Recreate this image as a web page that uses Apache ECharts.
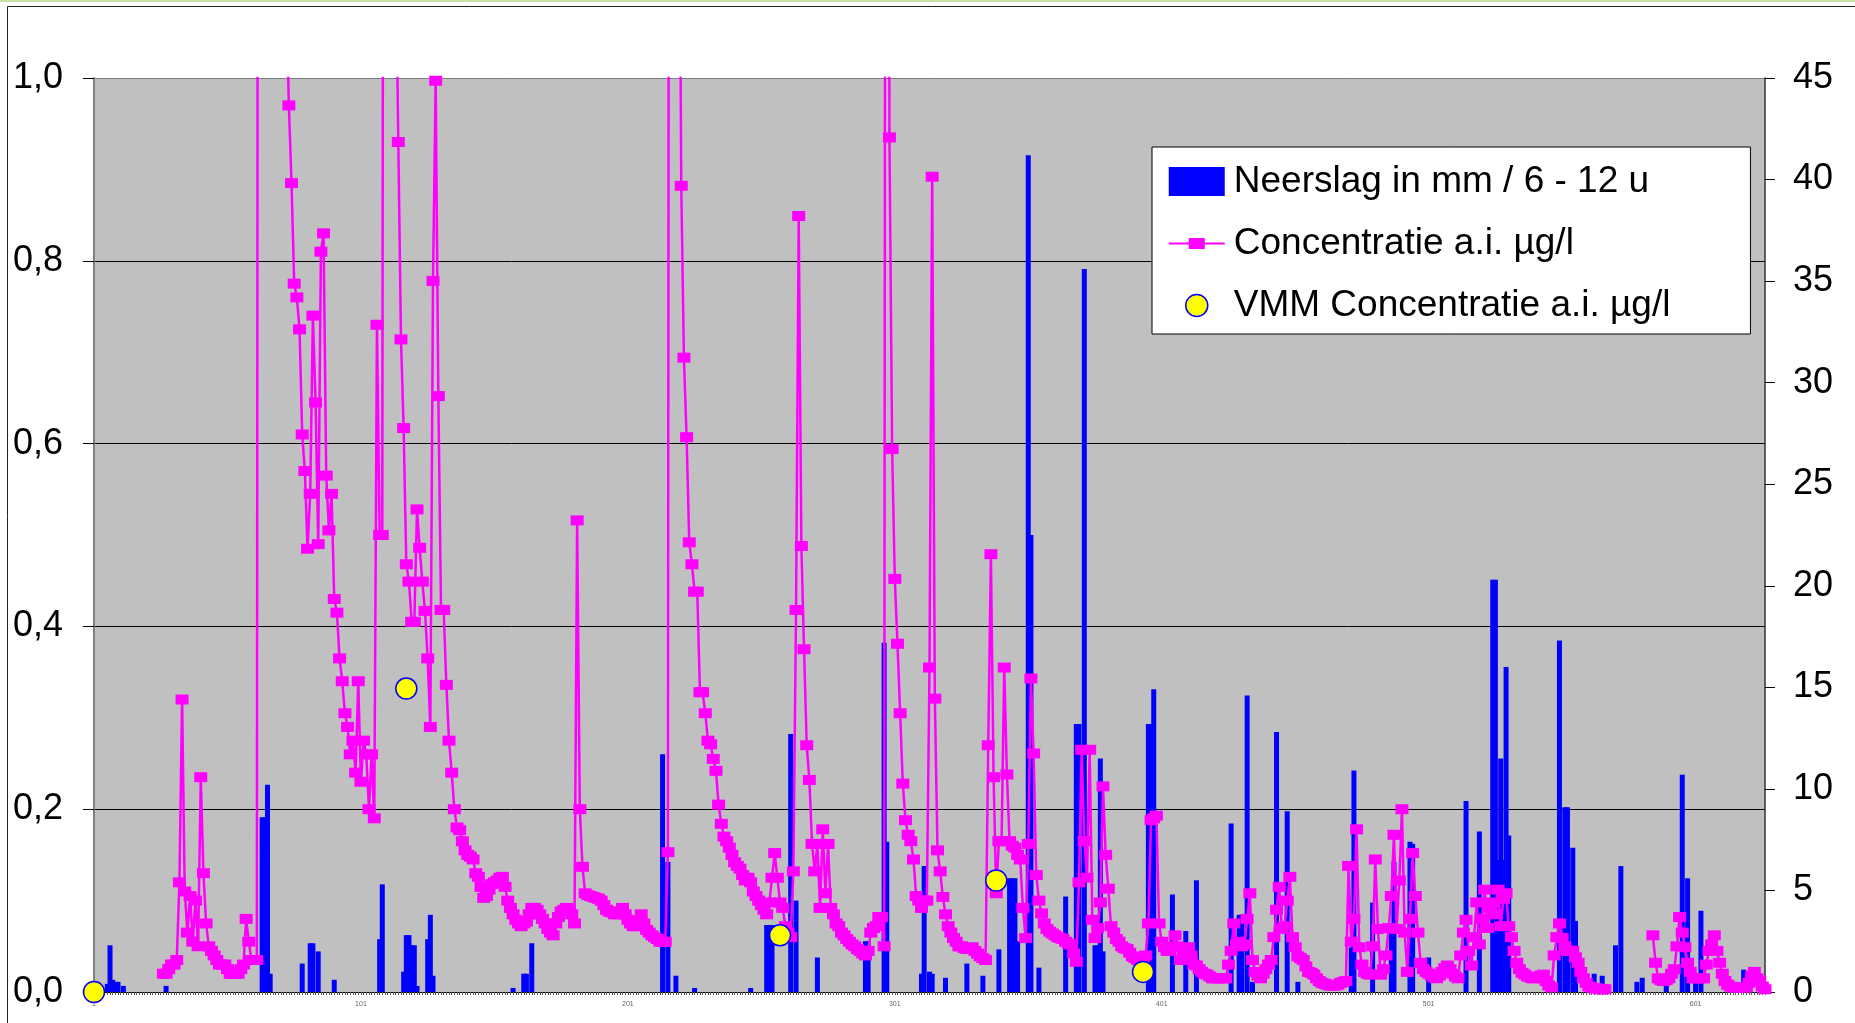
<!DOCTYPE html>
<html>
<head>
  <meta charset="utf-8" />
  <title>Neerslag en concentratie</title>
  <script src="https://cdn.jsdelivr.net/npm/echarts/dist/echarts.min.js"></script>
  <style>
    html, body { margin: 0; padding: 0; background: #fff; }
    #main { width: 1855px; height: 1023px; }
  </style>
</head>
<body>
<div id="main"></div>
<script type="text/javascript">
  // aantal tijdstappen op de x-as
  var nSteps = 627;

  // neerslag (mm), alleen de stappen met een balk: index + waarde
  var rainIdx = [6, 7, 8, 9, 10, 12, 28, 64, 65, 66, 67, 79, 82, 83, 85, 91,
    108, 109, 117, 118, 119, 120, 121, 122, 126, 127, 128, 158, 162, 163, 165,
    214, 216, 219, 226, 247, 253, 254, 255, 262, 264, 272, 290, 291, 297, 298,
    311, 312, 314, 315, 320, 328, 334, 340, 344, 345, 346, 347, 351, 352, 355,
    365, 369, 370, 372, 376, 377, 378, 379, 396, 397, 398, 405, 410, 414,
    427, 430, 431, 433, 435, 444, 448, 452, 472, 473, 480, 487, 488, 494, 495,
    501, 515, 520, 525, 526, 527, 528, 529, 530, 531, 550, 552, 553, 555, 556,
    563, 566, 571, 573, 579, 581, 590, 596, 598, 601, 603, 619];
  var rainVal = [0.4, 2.3, 0.6, 0.5, 0.5, 0.3, 0.3, 8.6, 8.6, 10.2, 0.9, 1.4, 2.4, 2.4, 2.0, 0.6,
    2.6, 5.3, 1.0, 2.8, 2.8, 2.3, 2.3, 0.3, 2.6, 3.8, 0.8, 0.2, 0.9, 0.9, 2.4,
    11.7, 6.4, 0.8, 0.2, 0.2, 3.3, 3.3, 3.3, 12.7, 4.5, 1.7, 2.5, 2.5, 17.2, 7.4,
    0.9, 6.2, 1.0, 0.9, 0.7, 1.4, 0.8, 2.1, 5.6, 5.6, 5.6, 2.5, 41.2, 22.5, 1.2,
    4.7, 13.2, 13.2, 35.6, 2.3, 2.3, 11.5, 2.0, 13.2, 13.2, 14.9, 4.8, 3.0, 5.5,
    8.3, 3.8, 3.8, 14.6, 0.5, 12.8, 8.9, 0.5, 2.2, 10.9, 4.4, 3.2, 6.4, 7.4, 7.3,
    1.7, 9.4, 7.9, 20.3, 20.3, 6.5, 11.5, 6.5, 16.0, 7.7, 17.3, 9.1, 9.1, 7.1, 3.5,
    0.9, 0.8, 2.3, 6.2, 0.5, 0.7, 0.9, 10.7, 5.6, 0.9, 4.0, 1.1];

  // concentratie (µg/l), begint bij stap 27; waarden boven 1,0 vallen buiten beeld
  var concStart = 27;
  var concA = [ // 27 - 104
    0.02, 0.02, 0.025, 0.03, 0.03, 0.035, 0.12, 0.32, 0.11, 0.065,
    0.105, 0.055, 0.1, 0.05, 0.235, 0.13, 0.075, 0.05, 0.045, 0.04,
    0.035, 0.03, 0.03, 0.03, 0.025, 0.02, 0.02, 0.02, 0.02, 0.025,
    0.03, 0.08, 0.055, 0.035, 0.035, 0.035, 3.5, 3.0, 2.6, 2.3,
    2.0, 1.8, 1.6, 1.45, 1.3, 1.2, 1.1, 0.97, 0.885, 0.775,
    0.76, 0.725, 0.61, 0.57, 0.485, 0.545, 0.74, 0.645, 0.49, 0.81,
    0.83, 0.565, 0.505, 0.545, 0.43, 0.415, 0.365, 0.34, 0.305, 0.29,
    0.26, 0.275, 0.24, 0.34, 0.23, 0.275, 0.26, 0.2];
  var concB = [ // 105 - 208
    0.26, 0.19, 0.73, 0.5, 0.5, 3.0, 2.4, 1.9, 1.5, 1.15,
    0.93, 0.714, 0.617, 0.468, 0.449, 0.405, 0.405, 0.528, 0.486, 0.449,
    0.417, 0.365, 0.29, 0.778, 0.997, 0.652, 0.418, 0.418, 0.336, 0.275,
    0.24, 0.2, 0.18, 0.177, 0.165, 0.155, 0.15, 0.148, 0.145, 0.13,
    0.126, 0.115, 0.103, 0.105, 0.112, 0.118, 0.12, 0.122, 0.125, 0.126,
    0.115, 0.1, 0.092, 0.085, 0.079, 0.075, 0.072, 0.075, 0.077, 0.085,
    0.092, 0.092, 0.09, 0.085, 0.08, 0.075, 0.069, 0.065, 0.062, 0.075,
    0.082, 0.088, 0.09, 0.092, 0.09, 0.085, 0.075, 0.516, 0.2, 0.137,
    0.108, 0.106, 0.105, 0.104, 0.103, 0.102, 0.1, 0.095, 0.09, 0.088,
    0.087, 0.085, 0.085, 0.088, 0.092, 0.085, 0.079, 0.075, 0.072, 0.072,
    0.078, 0.085, 0.075, 0.068];
  var concC = [ // 209 - 314
    0.065, 0.062, 0.06, 0.058, 0.055, 0.055, 0.055, 0.153, 3.5, 2.6,
    1.9, 1.4, 0.882, 0.694, 0.607, 0.492, 0.468, 0.438, 0.438, 0.328,
    0.328, 0.305, 0.275, 0.271, 0.255, 0.242, 0.205, 0.184, 0.17, 0.165,
    0.158, 0.15, 0.142, 0.138, 0.135, 0.128, 0.122, 0.125, 0.12, 0.11,
    0.105, 0.1, 0.095, 0.09, 0.085, 0.098, 0.125, 0.152, 0.125, 0.098,
    0.092, 0.072, 0.065, 0.06, 0.132, 0.418, 0.849, 0.488, 0.375, 0.27,
    0.232, 0.162, 0.132, 0.162, 0.092, 0.178, 0.108, 0.162, 0.092, 0.085,
    0.075, 0.072, 0.065, 0.062, 0.058, 0.055, 0.052, 0.05, 0.047, 0.045,
    0.042, 0.04, 0.045, 0.065, 0.07, 0.072, 0.082, 0.082, 0.05, 3.0,
    0.935, 0.594, 0.452, 0.381, 0.305, 0.228, 0.188, 0.172, 0.165, 0.145,
    0.105, 0.1, 0.092, 0.1, 0.1, 0.355];
  var concD = [ // 315 - 418
    0.892, 0.321, 0.155, 0.132, 0.104, 0.085, 0.072, 0.065, 0.059, 0.055,
    0.05, 0.05, 0.048, 0.047, 0.048, 0.049, 0.045, 0.042, 0.039, 0.037,
    0.035, 0.27, 0.479, 0.235, 0.108, 0.165, 0.165, 0.355, 0.238, 0.165,
    0.16, 0.158, 0.15, 0.145, 0.092, 0.059, 0.162, 0.343, 0.261, 0.128,
    0.1, 0.086, 0.075, 0.069, 0.066, 0.064, 0.062, 0.06, 0.059, 0.058,
    0.055, 0.053, 0.052, 0.042, 0.033, 0.12, 0.265, 0.165, 0.125, 0.265,
    0.079, 0.059, 0.07, 0.098, 0.225, 0.15, 0.113, 0.072, 0.065, 0.058,
    0.055, 0.05, 0.048, 0.047, 0.043, 0.039, 0.037, 0.035, 0.033, 0.032,
    0.04, 0.075, 0.188, 0.19, 0.193, 0.075, 0.055, 0.049, 0.045, 0.045,
    0.05, 0.062, 0.05, 0.035, 0.04, 0.045, 0.049, 0.04, 0.03, 0.029,
    0.025, 0.022, 0.02, 0.019];
  var concE = [ // 419 - 524
    0.017, 0.015, 0.015, 0.015, 0.015, 0.015, 0.015, 0.03, 0.045, 0.075,
    0.052, 0.055, 0.05, 0.052, 0.08, 0.108, 0.035, 0.022, 0.018, 0.015,
    0.02, 0.025, 0.03, 0.035, 0.06, 0.09, 0.115, 0.069, 0.072, 0.1,
    0.126, 0.06, 0.049, 0.039, 0.037, 0.035, 0.028, 0.022, 0.021, 0.019,
    0.015, 0.012, 0.01, 0.009, 0.008, 0.007, 0.007, 0.007, 0.008, 0.01,
    0.011, 0.012, 0.138, 0.055, 0.08, 0.178, 0.049, 0.03, 0.022, 0.02,
    0.019, 0.05, 0.145, 0.069, 0.019, 0.025, 0.04, 0.07, 0.105, 0.172,
    0.069, 0.122, 0.2, 0.065, 0.022, 0.08, 0.152, 0.105, 0.065, 0.032,
    0.025, 0.022, 0.02, 0.018, 0.016, 0.015, 0.018, 0.022, 0.026, 0.029,
    0.025, 0.02, 0.017, 0.015, 0.04, 0.065, 0.079, 0.045, 0.029, 0.06,
    0.098, 0.052, 0.08, 0.112, 0.07, 0.092];
  var concF = [ // 525 - 627, geen metingen tussen 568 en 584
    0.098, 0.085, 0.112, 0.072, 0.102, 0.108, 0.072, 0.06, 0.045, 0.032,
    0.025, 0.021, 0.019, 0.017, 0.016, 0.015, 0.015, 0.016, 0.018, 0.019,
    0.012, 0.007, 0.005, 0.04, 0.06, 0.075, 0.059, 0.05, 0.045, 0.045,
    0.045, 0.038, 0.032, 0.022, 0.015, 0.01, 0.006, 0.005, 0.004, 0.004,
    0.003, 0.003, 0.003, null, null, null, null, null, null, null,
    null, null, null, null, null, null, null, null, null, null,
    0.062, 0.032, 0.015, 0.013, 0.012, 0.013, 0.015, 0.02, 0.025, 0.05,
    0.082, 0.065, 0.049, 0.032, 0.022, 0.015, 0.015, 0.015, 0.015, 0.015,
    0.03, 0.045, 0.052, 0.062, 0.045, 0.032, 0.02, 0.012, 0.008, 0.006,
    0.005, 0.005, 0.005, 0.005, 0.005, 0.005, 0.01, 0.018, 0.022, 0.015,
    0.012, 0.006, 0.003];

  // VMM metingen
  var vmmIdx = [1, 118, 258, 339, 394];
  var vmmVal = [0.0, 0.332, 0.062, 0.122, 0.022];

  var names = ['Neerslag in mm / 6 - 12 u', 'Concentratie a.i. µg/l', 'VMM Concentratie a.i. µg/l'];

  // opbouw van de reeksen
  var steps = [];
  var rain = [];
  for (var i = 1; i <= nSteps; i++) {
    steps.push(String(i));
    rain.push(null);
  }
  for (var k = 0; k < rainIdx.length; k++) {
    rain[rainIdx[k] - 1] = rainVal[k];
  }
  var conc = [];
  for (var j = 1; j < concStart; j++) conc.push(null);
  conc = conc.concat(concA, concB, concC, concD, concE, concF);
  var vmm = [];
  for (var m = 0; m < vmmIdx.length; m++) {
    vmm.push([vmmIdx[m] - 1, vmmVal[m]]);
  }

  var font = 'Liberation Sans, Arial, sans-serif';
  var myChart = echarts.init(document.getElementById('main'));
  var option = {
    animation: false,
    graphic: [
      { type: 'line', silent: true, shape: { x1: 0, y1: 1, x2: 1855, y2: 1 }, style: { stroke: '#c9e0a6', lineWidth: 2 } },
      { type: 'rect', silent: true, shape: { x: 7.5, y: 6.5, width: 1900, height: 1100 }, style: { fill: null, stroke: '#222', lineWidth: 1 } }
    ],
    grid: {
      left: 94, right: 90, top: 78, bottom: 31,
      show: true, backgroundColor: '#c0c0c0', borderWidth: 0
    },
    legend: {
      orient: 'vertical',
      left: 1152, top: 147,
      padding: [16, 80, 10, 16],
      itemWidth: 56, itemHeight: 29, itemGap: 25,
      backgroundColor: '#fff', borderColor: '#000', borderWidth: 1,
      selectedMode: false,
      textStyle: { fontFamily: font, fontSize: 37, color: '#000', padding: [0, 0, 0, 4] },
      data: [
        { name: names[0], icon: 'rect' },
        { name: names[1], icon: 'path://M0 0M0 13.5L56 13.5L56 15.5L0 15.5ZM20 9L36 9L36 20L20 20ZM56 29' },
        { name: names[2], icon: 'path://M0 0M17 14.5A11 11 0 1 1 39 14.5A11 11 0 1 1 17 14.5ZM56 29',
          itemStyle: { color: '#ffff00', borderColor: '#0000ff', borderWidth: 1.5 } }
      ]
    },
    xAxis: {
      type: 'category',
      data: steps,
      boundaryGap: false,
      axisLine: { lineStyle: { color: '#000', width: 1 } },
      axisTick: { interval: 0, length: 3, lineStyle: { color: '#555' } },
      axisLabel: { interval: 99, fontSize: 7, color: '#666', margin: 9, fontFamily: font },
      splitLine: { show: false }
    },
    yAxis: [
      {
        type: 'value', min: 0, max: 1, interval: 0.2,
        axisLine: { show: true, lineStyle: { color: '#808080', width: 2 } },
        axisTick: { show: true, length: 11, lineStyle: { color: '#000' } },
        axisLabel: {
          fontSize: 36, color: '#000', margin: 31, fontFamily: font,
          formatter: function (v) { return v.toFixed(1).replace('.', ','); }
        },
        splitLine: { lineStyle: { color: ['#000', '#000', '#000', '#000', '#000', '#808080'], width: 1 } }
      },
      {
        type: 'value', min: 0, max: 45, interval: 5,
        axisLine: { show: true, lineStyle: { color: '#333', width: 1.5 } },
        axisTick: { show: true, length: 10, lineStyle: { color: '#000' } },
        axisLabel: { fontSize: 36, color: '#000', margin: 28, fontFamily: font },
        splitLine: { show: false }
      }
    ],
    series: [
      {
        name: names[0],
        type: 'bar',
        yAxisIndex: 1,
        data: rain,
        barWidth: 5,
        itemStyle: { color: '#0000ff' }
      },
      {
        name: names[1],
        type: 'line',
        yAxisIndex: 0,
        data: conc,
        clip: true,
        showAllSymbol: true,
        symbol: 'rect',
        symbolSize: [13, 10],
        lineStyle: { color: '#ff00ff', width: 2.5 },
        itemStyle: { color: '#ff00ff' }
      },
      {
        name: names[2],
        type: 'scatter',
        yAxisIndex: 0,
        data: vmm,
        clip: false,
        symbol: 'circle',
        symbolSize: 21,
        itemStyle: { color: '#ffff00', borderColor: '#0000ff', borderWidth: 1.5, opacity: 1 },
        z: 5
      }
    ]
  };
  myChart.setOption(option);
</script>
</body>
</html>
